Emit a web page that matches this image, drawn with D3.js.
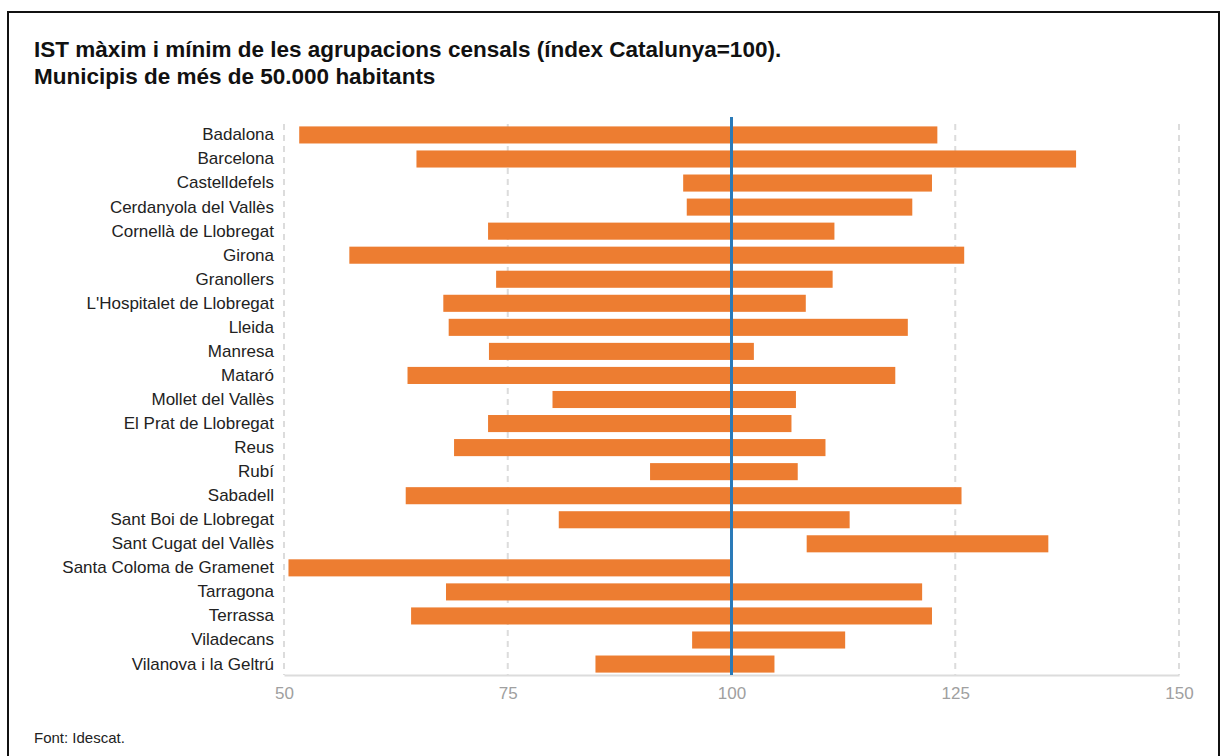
<!DOCTYPE html>
<html>
<head>
<meta charset="utf-8">
<script src="https://cdn.jsdelivr.net/npm/d3@7"></script>
<style>
  body { margin: 0; background: #fff; }
  svg { display: block; font-family: "Liberation Sans", Arial, sans-serif; }
</style>
</head>
<body>
<svg id="chart" width="1222" height="756"></svg>
<script>
const municipis = [
  'Badalona', 'Barcelona', 'Castelldefels', 'Cerdanyola del Vallès',
  'Cornellà de Llobregat', 'Girona', 'Granollers', "L'Hospitalet de Llobregat",
  'Lleida', 'Manresa', 'Mataró', 'Mollet del Vallès', 'El Prat de Llobregat',
  'Reus', 'Rubí', 'Sabadell', 'Sant Boi de Llobregat', 'Sant Cugat del Vallès',
  'Santa Coloma de Gramenet', 'Tarragona', 'Terrassa', 'Viladecans',
  'Vilanova i la Geltrú',
];
const istMinim = [
  51.7, 64.8, 94.6, 95.0, 72.8, 57.3, 73.7, 67.8, 68.4, 72.9, 63.8, 80.0,
  72.8, 69.0, 90.9, 63.6, 80.7, 108.4, 50.5, 68.1, 64.2, 95.6, 84.8,
];
const istMaxim = [
  123.0, 138.5, 122.4, 120.2, 111.5, 126.0, 111.3, 108.3, 119.7, 102.5, 118.3, 107.2,
  106.7, 110.5, 107.4, 125.7, 113.2, 135.4, 100.0, 121.3, 122.4, 112.7, 104.8,
];
const xTicks = [50, 75, 100, 125, 150];
const referencia = 100;

const margin = { top: 124, right: 43, bottom: 81, left: 284 };
const width = 1222 - margin.left - margin.right;
const height = 756 - margin.top - margin.bottom;

const data = municipis.map((nom, i) => ({ nom, min: istMinim[i], max: istMaxim[i] }));

const svg = d3.select('#chart');

// marc exterior
svg.append('rect')
  .attr('x', 8).attr('y', 12)
  .attr('width', 1211).attr('height', 760)
  .attr('fill', 'none')
  .attr('stroke', '#111')
  .attr('stroke-width', 2);

svg.append('text')
  .attr('x', 34).attr('y', 57)
  .attr('font-size', 22.5).attr('font-weight', 'bold').attr('fill', '#111')
  .text('IST màxim i mínim de les agrupacions censals (índex Catalunya=100).');
svg.append('text')
  .attr('x', 34).attr('y', 84)
  .attr('font-size', 22.5).attr('font-weight', 'bold').attr('fill', '#111')
  .text('Municipis de més de 50.000 habitants');

svg.append('text')
  .attr('x', 34).attr('y', 743)
  .attr('font-size', 15).attr('fill', '#222')
  .text('Font: Idescat.');

const g = svg.append('g')
  .attr('transform', `translate(${margin.left}, ${margin.top})`);

const x = d3.scaleLinear().domain([50, 150]).range([0, width]);
const y = d3.scaleBand()
  .domain(municipis)
  .range([0, height])
  .paddingInner(0.29)
  .paddingOuter(0.1);

// graella
g.append('g')
  .attr('class', 'grid')
  .selectAll('line')
  .data(xTicks)
  .join('line')
  .attr('x1', d => x(d)).attr('x2', d => x(d))
  .attr('y1', 0).attr('y2', height)
  .attr('stroke', '#dcdcdc')
  .attr('stroke-width', 2)
  .attr('stroke-dasharray', '6,5');

// eix x
const xAxis = g.append('g')
  .attr('transform', `translate(0, ${height})`)
  .call(d3.axisBottom(x).tickValues(xTicks).tickSize(0).tickPadding(12));
xAxis.select('.domain').attr('stroke', '#dcdcdc').attr('stroke-width', 2);
xAxis.selectAll('text')
  .attr('font-size', 17)
  .attr('fill', '#a0a0a0')
  .attr('font-family', '"Liberation Sans", Arial, sans-serif');

// eix y
const yAxis = g.append('g')
  .call(d3.axisLeft(y).tickSize(0).tickPadding(10));
yAxis.select('.domain').remove();
yAxis.selectAll('text')
  .attr('font-size', 17)
  .attr('fill', '#222')
  .attr('font-family', '"Liberation Sans", Arial, sans-serif');

// barres
g.append('g')
  .selectAll('rect')
  .data(data)
  .join('rect')
  .attr('x', d => x(d.min))
  .attr('y', d => y(d.nom))
  .attr('width', d => x(d.max) - x(d.min))
  .attr('height', y.bandwidth())
  .attr('fill', '#ed7d31');

// línia de referència Catalunya = 100
g.append('line')
  .attr('x1', x(referencia)).attr('x2', x(referencia))
  .attr('y1', -7).attr('y2', height)
  .attr('stroke', '#2a7ab8')
  .attr('stroke-width', 3);
</script>
</body>
</html>
